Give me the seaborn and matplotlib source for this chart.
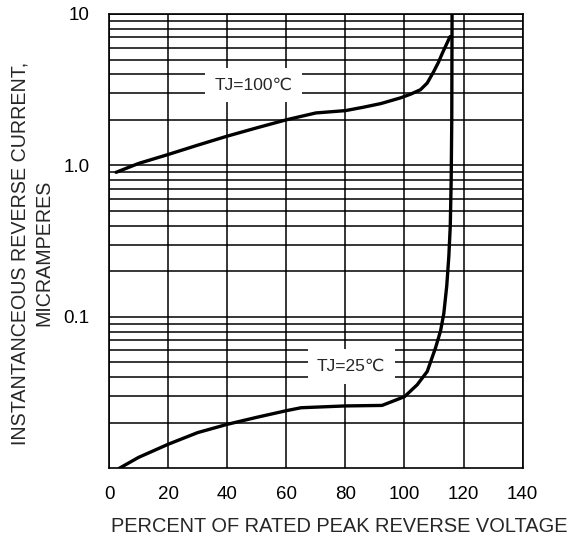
import numpy as np
import pandas as pd
import matplotlib
matplotlib.use("Agg")
import matplotlib.pyplot as plt
from matplotlib.ticker import LogLocator, NullFormatter
import seaborn as sns

# Curve readings (percent of rated voltage, current in microamperes)
x_100 = [2.4, 10, 20, 30, 40, 50, 60, 70, 80, 86, 92, 98.6, 102, 105.4, 107.7, 109.9, 111.5, 112.8, 114.2, 115.4]
y_100 = [0.90, 1.03, 1.18, 1.36, 1.56, 1.77, 2.0, 2.22, 2.3, 2.42, 2.56, 2.79, 2.95, 3.16, 3.5, 4.17, 4.8, 5.5, 6.3, 7.08]

x_25 = [3.5, 10, 20, 30, 40, 50, 60, 65, 80, 92.4, 100, 104.3, 107.7, 110.5, 112.2, 113.3, 114.3, 115.0, 115.5, 115.8, 116.0, 116.1]
y_25 = [0.010, 0.0118, 0.0144, 0.0172, 0.0195, 0.0217, 0.024, 0.0251, 0.0258, 0.026, 0.0297, 0.0356, 0.0436, 0.0624, 0.0807, 0.105, 0.16, 0.25, 0.4, 0.8, 2.0, 10.0]

x_ticks = [0, 20, 40, 60, 80, 100, 120, 140]
y_ticks = [0.1, 1.0, 10]
y_tick_labels = ["0.1", "1.0", "10"]

sns.set_style("white")
plt.rcParams["font.family"] = ["Liberation Sans", "DejaVu Sans"]

df_100 = pd.DataFrame({"x": x_100, "y": y_100})
df_25 = pd.DataFrame({"x": x_25, "y": y_25})

fig = plt.figure(figsize=(5.69, 5.37), dpi=100)
ax = fig.add_axes([0.1916, 0.128, 0.7270, 0.846])

sns.lineplot(data=df_100, x="x", y="y", sort=False, estimator=None,
             color="black", lw=2.4, ax=ax, zorder=5)
sns.lineplot(data=df_25, x="x", y="y", sort=False, estimator=None,
             color="black", lw=2.4, ax=ax, zorder=5)

ax.set_yscale("log")
ax.set_xlim(0, 140)
ax.set_ylim(0.01, 10)
ax.set_xticks(x_ticks)
ax.set_xticklabels([str(t) for t in x_ticks])
ax.set_yticks(y_ticks)
ax.set_yticklabels(y_tick_labels)
ax.yaxis.set_minor_locator(LogLocator(base=10, subs=np.arange(2, 10)))
ax.yaxis.set_minor_formatter(NullFormatter())

ax.grid(which="major", axis="both", color="black", lw=1.1)
ax.grid(which="minor", axis="y", color="black", lw=1.1)
ax.tick_params(which="both", length=0, labelsize=13.5, colors="black")
ax.tick_params(axis="x", pad=13)
ax.tick_params(axis="y", pad=14)
for s in ax.spines.values():
    s.set_color("black")
    s.set_linewidth(1.2)

ax.text(48.8, 3.4, "TJ=100\u2103", ha="center", va="center", fontsize=12.5,
        bbox=dict(facecolor="white", edgecolor="none", boxstyle="square,pad=0.55"), zorder=4)
ax.text(82, 0.047, "TJ=25\u2103", ha="center", va="center", fontsize=12.5,
        bbox=dict(facecolor="white", edgecolor="none", boxstyle="square,pad=0.55"), zorder=4)

ax.set_xlabel("PERCENT OF RATED PEAK REVERSE VOLTAGE", fontsize=14.4, va="center")
ax.xaxis.set_label_coords(0.556, -0.128)
ax.set_ylabel("INSTANTANCEOUS REVERSE CURRENT,\nMICRAMPERES", fontsize=14.1,
              linespacing=1.3, va="center")
ax.yaxis.set_label_coords(-0.186, 0.474)

fig.savefig("out.png", dpi=100)
